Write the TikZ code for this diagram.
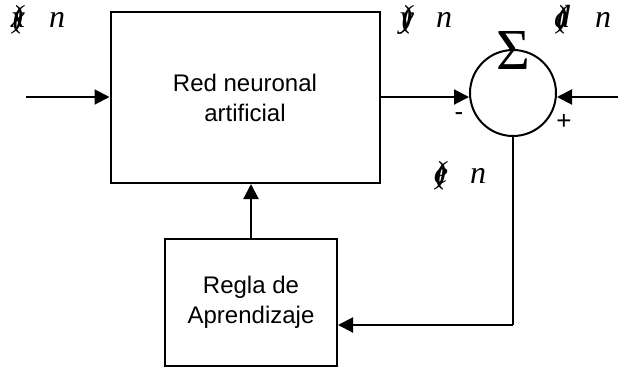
\documentclass[tikz,border=0pt]{standalone}
\usepackage{fontspec}
\setmainfont{Liberation Serif}
\newfontfamily\arialf{Liberation Sans}
\usetikzlibrary{arrows.meta}
\newcommand{\garb}[1]{\makebox[0pt]{(}\makebox[0pt]{)}\makebox[0pt]{#1}}
\tikzset{
  blk/.style={draw, line width=2pt, inner sep=0pt, font=\arialf\fontsize{24}{30}\selectfont, align=center},
  conn/.style={line width=2pt, -{Triangle[length=15pt,width=15pt]}},
  wire/.style={line width=2pt},
  sig/.style={anchor=base, inner sep=0pt, font=\fontsize{32}{34}\selectfont\itshape},
  sgn/.style={inner sep=0pt, font=\arialf\fontsize{26}{28}\selectfont}
}
\begin{document}
\begin{tikzpicture}[x=1pt,y=-1pt]
\useasboundingbox (0,0) rectangle (618,368);
\node[blk, minimum width=269pt, minimum height=171pt] (red) at (245,97.5) {Red neuronal\\artificial};
\node[blk, minimum width=172pt, minimum height=127pt] (regla) at (251,302.5) {Regla de\\Aprendizaje};
\node[draw, circle, line width=2pt, minimum size=86pt, inner sep=0pt] (sum) at (513,93) {};
\node[inner sep=0pt, font=\fontsize{58}{58}\selectfont] (sigma) at (513,51) {Σ};
\coordinate (in) at (26,97);
\coordinate (din) at (618,97);
\coordinate (corner) at (513,325);
\draw[conn] (in) -- (in -| red.west);
\draw[conn] (red.east |- 0,97) -- (sum.west |- 0,97);
\draw[conn] (din) -- (sum.east |- 0,97);
\draw[conn] (regla.north) -- (regla.north |- red.south);
\draw[wire] (sum.south) -- (corner);
\draw[conn] (corner) -- (corner -| regla.east);
\node[sgn] (minus) at (459,117) {-};
\node[sgn] (plus) at (564,122) {+};
\node[sig] (xl) at (18,27) {\garb{x}};
\node[sig] (xn) at (57,27) {n};
\node[sig] (yl) at (407,27) {\garb{y}};
\node[sig] (yn) at (444,27) {n};
\node[sig] (dl) at (562,27) {\garb{d}};
\node[sig] (dn) at (603,27) {n};
\node[sig] (el) at (441,183) {\garb{e}};
\node[sig] (en) at (478,183) {n};
\end{tikzpicture}
\end{document}
